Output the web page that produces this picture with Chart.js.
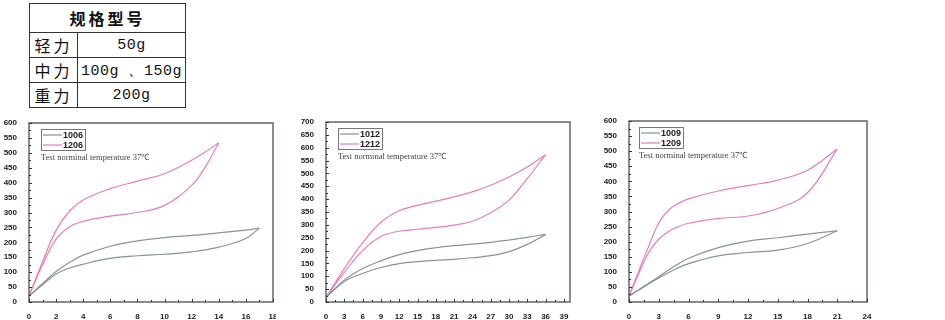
<!DOCTYPE html>
<html>
<head>
<meta charset="utf-8">
<script src="https://cdn.jsdelivr.net/npm/chart.js@4"></script>
<style>
  body { margin: 0; background: #fff; width: 945px; height: 320px; overflow: hidden; position: relative; }
  table.spec { position: absolute; left: 29px; top: 3px; border-collapse: collapse; color: #111; }
  table.spec td { border: 1.2px solid #333; padding: 0; text-align: center; line-height: 1; }
  table.spec .head { height: 28px; font: bold 16px "Noto Sans CJK SC", sans-serif; letter-spacing: 3px; }
  table.spec .name { width: 47px; font: 16px "Noto Sans CJK SC", sans-serif; letter-spacing: 3px; }
  table.spec .val { width: 107px; font: 15px "Liberation Mono", monospace; letter-spacing: 0.5px; }
  .box { position: absolute; top: 112px; height: 208px; }
</style>
</head>
<body>
<table class="spec">
  <tr><td class="head" colspan="2">规格型号</td></tr>
  <tr style="height:24px"><td class="name">轻力</td><td class="val">50g</td></tr>
  <tr style="height:21px"><td class="name">中力</td><td class="val">100g 、150g</td></tr>
  <tr style="height:21px"><td class="name">重力</td><td class="val">200g</td></tr>
</table>

<div class="box" style="left:0;width:276px"><canvas id="c1"></canvas></div>
<div class="box" style="left:297px;width:290px"><canvas id="c2"></canvas></div>
<div class="box" style="left:600px;width:290px"><canvas id="c3"></canvas></div>

<script>
// chart 1: 1006 / 1206
const x1006 = [0, 1, 2, 3, 4, 6, 8, 10, 12, 14, 16, 17];
const load1006 = [20, 62, 102, 133, 157, 187, 205, 216, 223, 232, 241, 248];
const unload1006 = [20, 58, 94, 114, 127, 146, 155, 160, 168, 184, 213, 248];
const x1206 = [0, 1, 2, 3, 4, 6, 8, 10, 12, 13, 14];
const load1206 = [20, 135, 240, 305, 342, 380, 405, 430, 475, 503, 534];
const unload1206 = [20, 125, 210, 252, 270, 288, 300, 324, 391, 452, 534];
const xTicks1 = [0, 2, 4, 6, 8, 10, 12, 14, 16, 18];
const yTicks1 = [0, 50, 100, 150, 200, 250, 300, 350, 400, 450, 500, 550, 600];

// chart 2: 1012 / 1212
const x1012 = [0, 3, 6, 9, 12, 15, 18, 21, 24, 27, 30, 33, 36];
const load1012 = [18, 85, 130, 160, 184, 200, 211, 219, 225, 232, 241, 251, 263];
const unload1012 = [18, 80, 111, 134, 149, 157, 162, 166, 172, 180, 196, 224, 263];
const x1212 = [0, 3, 6, 9, 12, 15, 18, 21, 24, 27, 30, 33, 36];
const load1212 = [18, 130, 230, 310, 355, 376, 392, 409, 428, 454, 486, 525, 573];
const unload1212 = [18, 115, 200, 255, 275, 283, 290, 299, 314, 347, 396, 480, 573];
const xTicks2 = [0, 3, 6, 9, 12, 15, 18, 21, 24, 27, 30, 33, 36, 39];
const yTicks2 = [0, 50, 100, 150, 200, 250, 300, 350, 400, 450, 500, 550, 600, 650, 700];

// chart 3: 1009 / 1209
const x1009 = [0, 1.5, 3, 4.5, 6, 9, 12, 15, 18, 21];
const load1009 = [20, 52, 84, 117, 145, 180, 202, 213, 225, 236];
const unload1009 = [20, 50, 80, 106, 127, 153, 164, 172, 194, 236];
const x1209 = [0, 1, 2, 3, 4, 5, 6, 9, 12, 15, 18, 21];
const load1209 = [20, 104, 186, 262, 305, 327, 342, 368, 386, 404, 437, 507];
const unload1209 = [20, 96, 165, 208, 234, 250, 261, 277, 285, 310, 362, 507];
const xTicks3 = [0, 3, 6, 9, 12, 15, 18, 21, 24];
const yTicks3 = [0, 50, 100, 150, 200, 250, 300, 350, 400, 450, 500, 550, 600];

const GRAY = '#869595';
const PINK = '#e57eb8';
const NOTE = 'Test norminal temperature 37\u2103';

function pts(xs, ys) {
    return xs.map((x, i) => ({x: x, y: ys[i]}));
}

function line(xs, ys, color) {
    return {
        data: pts(xs, ys),
        borderColor: color,
        borderWidth: 1.2,
        pointRadius: 0,
        showLine: true,
        tension: 0.4
    };
}

// frame, inward ticks and the little legend box
const decorations = {
    id: 'decorations',
    afterDraw(chart, args, opts) {
        const ctx = chart.ctx;
        const a = chart.chartArea;
        const xs = chart.scales.x, ys = chart.scales.y;
        ctx.save();
        ctx.strokeStyle = '#5f6868';
        ctx.lineWidth = 1.5;
        ctx.strokeRect(a.left, a.top, a.right - a.left, a.bottom - a.top);

        ctx.strokeStyle = '#333';
        ctx.lineWidth = 1;
        const xt = opts.xTicks, yt = opts.yTicks;
        ctx.beginPath();
        xt.forEach((v, i) => {
            const px = Math.round(xs.getPixelForValue(v)) + 0.5;
            ctx.moveTo(px, a.bottom); ctx.lineTo(px, a.bottom - 3);
            if (i < xt.length - 1) {
                const m = Math.round(xs.getPixelForValue((v + xt[i + 1]) / 2)) + 0.5;
                ctx.moveTo(m, a.bottom); ctx.lineTo(m, a.bottom - 2);
            }
        });
        yt.forEach((v, i) => {
            const py = Math.round(ys.getPixelForValue(v)) + 0.5;
            ctx.moveTo(a.left, py); ctx.lineTo(a.left + 3, py);
            if (i < yt.length - 1) {
                const m = Math.round(ys.getPixelForValue((v + yt[i + 1]) / 2)) + 0.5;
                ctx.moveTo(a.left, m); ctx.lineTo(a.left + 2, m);
            }
        });
        ctx.stroke();

        // legend
        const bx = a.left + opts.dx, by = a.top + 6;
        ctx.strokeStyle = '#777';
        ctx.lineWidth = 1;
        ctx.strokeRect(bx + 0.5, by + 0.5, 44, 21);
        opts.labels.forEach((lab, i) => {
            const ly = by + 6 + i * 10;
            ctx.strokeStyle = i === 0 ? GRAY : PINK;
            ctx.lineWidth = 1.2;
            ctx.beginPath();
            ctx.moveTo(bx + 2, ly); ctx.lineTo(bx + 21, ly);
            ctx.stroke();
            ctx.fillStyle = '#222';
            ctx.font = 'bold 9px "Liberation Sans", Arial, sans-serif';
            ctx.textBaseline = 'middle';
            ctx.textAlign = 'left';
            ctx.fillText(lab, bx + 22, ly + 0.5);
        });
        ctx.fillStyle = '#444';
        ctx.font = '8.5px "Liberation Serif", "Times New Roman", serif';
        ctx.textBaseline = 'middle';
        ctx.fillText(NOTE, bx, a.top + 35);
        ctx.restore();
    }
};

function makeChart(id, datasets, xMax, xTicks, yMax, yTicks, pad, labels, dx) {
    new Chart(document.getElementById(id), {
        type: 'scatter',
        data: {datasets: datasets},
        options: {
            responsive: true,
            maintainAspectRatio: false,
            animation: false,
            layout: {padding: pad},
            plugins: {
                legend: {display: false},
                tooltip: {enabled: false},
                decorations: {xTicks: xTicks, yTicks: yTicks, labels: labels, dx: dx}
            },
            scales: {
                x: {
                    type: 'linear',
                    min: 0,
                    max: xMax,
                    afterBuildTicks: s => { s.ticks = xTicks.map(v => ({value: v})); },
                    afterFit: s => { s.height = 18; s.paddingLeft = 0; s.paddingRight = 0; },
                    grid: {display: false},
                    border: {display: false},
                    ticks: {padding: 2, color: '#222', font: {family: '"Liberation Sans", Arial, sans-serif', size: 8, weight: 'bold'}}
                },
                y: {
                    min: 0,
                    max: yMax,
                    afterBuildTicks: s => { s.ticks = yTicks.map(v => ({value: v})); },
                    afterFit: s => { s.width = 29; s.paddingTop = 0; s.paddingBottom = 0; },
                    grid: {display: false},
                    border: {display: false},
                    ticks: {padding: 4, color: '#222', font: {family: '"Liberation Sans", Arial, sans-serif', size: 8, weight: 'bold'}}
                }
            }
        },
        plugins: [decorations]
    });
}

makeChart('c1', [
    line(x1006, load1006, GRAY), line(x1006, unload1006, GRAY),
    line(x1206, load1206, PINK), line(x1206, unload1206, PINK)
], 18, xTicks1, 600, yTicks1, {top: 11, right: 3, bottom: 0, left: 0}, ['1006', '1206'], 12);

makeChart('c2', [
    line(x1012, load1012, GRAY), line(x1012, unload1012, GRAY),
    line(x1212, load1212, PINK), line(x1212, unload1212, PINK)
], 40, xTicks2, 700, yTicks2, {top: 10, right: 17, bottom: 0, left: 0}, ['1012', '1212'], 12);

makeChart('c3', [
    line(x1009, load1009, GRAY), line(x1009, unload1009, GRAY),
    line(x1209, load1209, PINK), line(x1209, unload1209, PINK)
], 24, xTicks3, 600, yTicks3, {top: 9, right: 23, bottom: 0, left: 0}, ['1009', '1209'], 10);
</script>
</body>
</html>
